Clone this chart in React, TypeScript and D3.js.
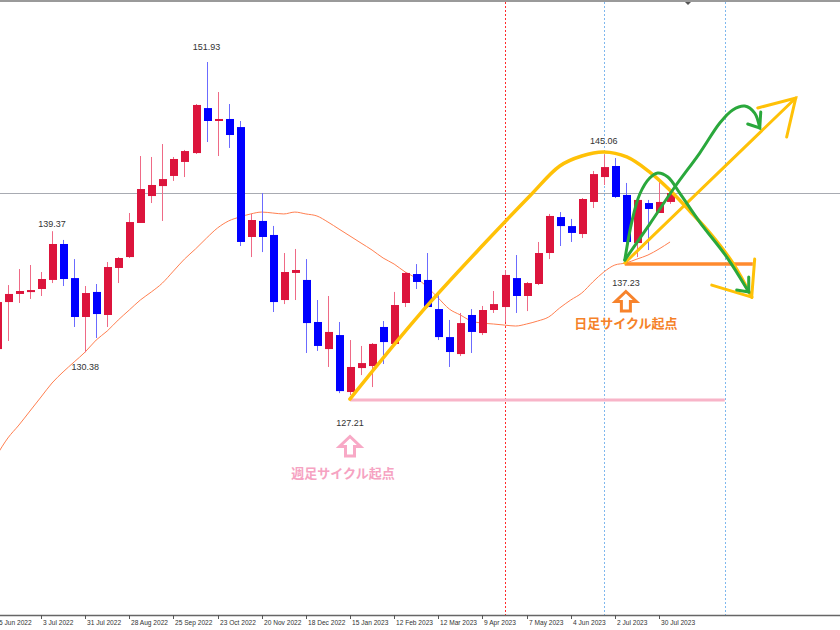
import React from 'react';
import * as d3 from 'd3';

// ---- Weekly USD/JPY candles (week start dates) ----
const weeks = [
  '2022-06-05','2022-06-12','2022-06-19','2022-06-26','2022-07-03','2022-07-10','2022-07-17','2022-07-24','2022-07-31',
  '2022-08-07','2022-08-14','2022-08-21','2022-08-28','2022-09-04','2022-09-11','2022-09-18','2022-09-25','2022-10-02',
  '2022-10-09','2022-10-16','2022-10-23','2022-10-30','2022-11-06','2022-11-13','2022-11-20','2022-11-27','2022-12-04',
  '2022-12-11','2022-12-18','2022-12-25','2023-01-01','2023-01-08','2023-01-15','2023-01-22','2023-01-29','2023-02-05',
  '2023-02-12','2023-02-19','2023-02-26','2023-03-05','2023-03-12','2023-03-19','2023-03-26','2023-04-02','2023-04-09',
  '2023-04-16','2023-04-23','2023-04-30','2023-05-07','2023-05-14','2023-05-21','2023-05-28','2023-06-04','2023-06-11',
  '2023-06-18','2023-06-25','2023-07-02','2023-07-09','2023-07-16','2023-07-23','2023-07-30','2023-08-06',
];
const open = [
  130.62,134.11,134.71,134.85,135.08,135.75,138.42,135.89,133.00,134.86,133.15,136.64,137.45,139.98,141.98,142.72,143.47,144.51,
  145.17,148.51,147.55,147.70,147.10,138.94,140.13,139.09,134.26,136.27,135.75,132.63,130.62,131.66,127.43,129.21,129.36,132.26,
  131.00,134.04,136.19,135.75,133.59,131.51,130.25,133.15,131.81,133.52,133.74,135.89,134.56,135.45,137.75,140.42,139.75,139.16,
  141.54,143.39,144.21,142.06,138.49,141.46,140.72,141.54,
];
const high = [
  134.50,135.37,136.56,136.86,136.34,139.37,138.72,137.30,135.30,135.45,137.08,137.45,140.72,144.95,144.88,145.84,144.88,145.40,
  148.81,151.93,149.70,148.81,147.55,140.65,142.20,139.76,137.75,138.05,137.30,134.26,134.56,132.63,131.29,130.85,131.07,132.70,
  134.86,136.34,136.93,137.75,134.63,132.78,133.30,133.59,133.82,134.93,136.49,137.60,135.60,138.57,140.65,140.79,140.28,141.83,
  143.84,145.06,144.80,142.95,141.76,141.69,143.02,142.30,
];
const low = [
  130.40,131.22,134.04,134.34,134.56,135.52,135.30,132.26,130.38,131.44,132.26,135.52,137.38,139.98,141.46,140.13,143.10,143.39,
  145.10,145.99,144.95,145.55,138.27,137.45,137.82,133.37,133.96,134.26,130.33,130.48,129.29,127.35,127.21,128.69,127.80,129.51,
  131.00,133.74,135.08,133.67,131.29,129.29,130.10,130.33,131.66,133.30,132.63,133.30,133.44,135.37,137.30,138.27,138.57,138.86,
  141.09,142.80,141.83,137.23,137.45,137.97,140.72,141.40,
];
const close = [
  134.11,134.71,134.93,135.00,135.82,138.42,135.82,133.00,134.78,133.22,136.71,137.38,140.05,142.50,142.80,143.24,144.73,145.32,
  148.74,147.55,147.70,146.51,138.57,140.20,138.94,134.11,136.34,136.49,132.55,130.85,131.89,127.50,129.29,129.58,131.00,131.14,
  133.89,136.27,135.60,133.74,131.51,130.40,132.55,131.89,133.52,133.96,136.12,134.56,135.52,137.75,140.50,139.75,139.24,141.76,
  143.61,144.13,141.91,138.57,141.69,141.02,141.54,142.20,
];
const movingAverage = [
  122.75,124.02,124.98,126.02,127.06,128.10,128.92,129.66,130.40,131.29,131.96,132.78,133.52,134.26,134.86,135.52,136.41,137.30,
  138.05,138.86,139.61,140.13,140.42,140.65,140.79,140.72,140.65,140.79,140.65,140.50,140.05,139.53,139.01,138.49,137.97,137.38,
  136.93,136.34,135.89,135.23,134.41,133.59,133.15,132.70,132.55,132.48,132.40,132.33,132.48,132.70,133.00,133.67,134.26,134.78,
  135.60,136.34,136.86,137.01,137.30,137.60,138.05,138.57,
];

const currentPrice = 142.2;
const extremeWeeks = ['2022-07-10', '2022-07-31', '2022-10-16', '2023-01-15', '2023-06-25', '2023-07-09'];
const extremeValues = [139.37, 130.38, 151.93, 127.21, 145.06, 137.23];
const extremeDy = [-4, 18, -12.5, 31, -11, 26];
const redMarkerWeeks = ['2023-04-23'];
const blueMarkerWeeks = ['2023-06-25', '2023-09-10'];

// ---- hand-drawn annotations: [week index from first week, price] ----
const weeklyCycleLine: [number, number][] = [[31.99, 126.84], [65.96, 126.84]];
const dailyCycleLine: [number, number][] = [[56.9, 136.93], [68.5, 136.93]];
const yellowCycle: [number, number][] = [
  [31.99, 126.91], [38.33, 133.22], [44.22, 138.49], [48.29, 141.98], [51.01, 144.21], [53.0, 144.95],
  [55.0, 145.25], [57.08, 144.88], [59.16, 143.76], [60.97, 142.43], [62.79, 140.87], [64.6, 139.24],
  [66.68, 137.01], [68.4, 134.48],
];
const yellowCycleHead: [number, number][] = [[64.78, 135.37], [68.4, 134.48], [68.67, 137.3]];
const yellowUp: [number, number][] = [[56.9, 137.01], [72.39, 149.26]];
const yellowUpHead: [number, number][] = [[68.95, 148.52], [72.39, 149.26], [71.57, 146.36]];
const greenShort: [number, number][] = [
  [56.9, 137.23], [57.53, 140.05], [58.26, 142.13], [59.16, 143.32], [59.89, 143.69], [60.8, 143.39],
  [61.88, 142.2], [63.69, 140.05], [66.14, 137.45], [68.13, 134.86],
];
const greenShortHead: [number, number][] = [[68.13, 135.97], [68.13, 134.86], [67.04, 135.0]];
const greenLong: [number, number][] = [
  [56.9, 137.23], [59.16, 139.9], [61.43, 142.65], [63.69, 145.17], [65.51, 147.4], [66.68, 148.37],
  [67.77, 148.66], [68.67, 148.14], [69.13, 147.03],
];
const greenLongHead: [number, number][] = [[69.22, 148.22], [69.13, 147.03], [68.04, 147.33]];
const weeklyCycleText = '週足サイクル起点';
const dailyCycleText = '日足サイクル起点';

const W = 840;
const H = 630;
const WEEK_MS = 7 * 864e5;
const weekIndex = (d: string) => Math.round((Date.parse(d) - Date.parse(weeks[0])) / WEEK_MS);

export default function App() {
  const x = d3.scaleLinear().domain([4, 60]).range([41, 659]);
  const y = d3.scaleLinear().domain([127.21, 151.93]).range([395, 62]);
  const axisY = 615;
  const parse = d3.utcParse('%Y-%m-%d');
  const fmtUtc = d3.utcFormat('%-d %b %Y');

  const line = d3.line<[number, number]>().x((d) => x(d[0])).y((d) => y(d[1]));
  const curve = d3.line<[number, number]>().x((d) => x(d[0])).y((d) => y(d[1])).curve(d3.curveCatmullRom.alpha(0.5));
  const maLine = d3.line<number>().x((_, i) => x(i)).y((d) => y(d)).curve(d3.curveMonotoneX);

  const tickIdx = weeks.map((_, i) => i).filter((i) => i % 4 === 0);

  const arrowPath = 'M0,0 L10.5,10 L4.5,10 L4.5,19.5 L-4.5,19.5 L-4.5,10 L-10.5,10 Z';
  const pinkIdx = weekIndex('2023-01-15');
  const orangeIdx = weekIndex('2023-07-09');

  return (
    <svg width={W} height={H} style={{ position: 'absolute', left: 0, top: 0, background: '#fff' }}>
      {/* frame */}
      <line x1={0} x2={W} y1={1} y2={1} stroke="#9a9a9a" strokeWidth={2} />
      <path d={`M685,2 L691,2 L688,5 Z`} fill="#555" />
      {/* vertical markers */}
      {redMarkerWeeks.map((d) => (
        <line key={d} x1={Math.round(x(weekIndex(d))) + 0.5} x2={Math.round(x(weekIndex(d))) + 0.5} y1={2} y2={axisY}
          stroke="#ff2a2a" strokeWidth={1} strokeDasharray="2,2" />
      ))}
      {blueMarkerWeeks.map((d) => (
        <line key={d} x1={Math.round(x(weekIndex(d))) + 0.5} x2={Math.round(x(weekIndex(d))) + 0.5} y1={2} y2={axisY}
          stroke="#7fb8ee" strokeWidth={1} strokeDasharray="2,2" />
      ))}
      {/* current price line */}
      <line x1={0} x2={W} y1={Math.round(y(currentPrice)) + 0.5} y2={Math.round(y(currentPrice)) + 0.5} stroke="#a8abb2" strokeWidth={1} />
      {/* moving average */}
      <path d={maLine(movingAverage) || ''} fill="none" stroke="#ff7f50" strokeWidth={1} />
      {/* candles */}
      {weeks.map((d, i) => {
        const up = close[i] >= open[i];
        const cx = Math.round(x(i));
        const top = y(Math.max(open[i], close[i]));
        const bot = y(Math.min(open[i], close[i]));
        return (
          <g key={d}>
            <line x1={cx + 0.5} x2={cx + 0.5} y1={y(high[i])} y2={y(low[i])} stroke={up ? '#ef6a86' : '#6b6bff'} strokeWidth={1} />
            <rect x={cx - 3} y={top} width={8} height={Math.max(1.5, bot - top)} fill={up ? '#dc143c' : '#0000ff'} />
          </g>
        );
      })}
      {/* annotations */}
      <path d={line(weeklyCycleLine) || ''} stroke="#f8b4c8" strokeWidth={3} fill="none" />
      <path d={line(dailyCycleLine) || ''} stroke="#ff8a2e" strokeWidth={3.5} fill="none" />
      <path d={curve(yellowCycle) || ''} stroke="#ffc107" strokeWidth={3.5} fill="none" strokeLinecap="round" />
      <path d={line(yellowCycleHead) || ''} stroke="#ffc107" strokeWidth={3} fill="none" strokeLinecap="round" />
      <path d={line(yellowUp) || ''} stroke="#ffc107" strokeWidth={3} fill="none" strokeLinecap="round" />
      <path d={line(yellowUpHead) || ''} stroke="#ffc107" strokeWidth={3} fill="none" strokeLinecap="round" />
      <path d={curve(greenShort) || ''} stroke="#2aa83c" strokeWidth={3} fill="none" strokeLinecap="round" />
      <path d={line(greenShortHead) || ''} stroke="#2aa83c" strokeWidth={3} fill="none" strokeLinecap="round" />
      <path d={curve(greenLong) || ''} stroke="#2aa83c" strokeWidth={3} fill="none" strokeLinecap="round" />
      <path d={line(greenLongHead) || ''} stroke="#2aa83c" strokeWidth={3} fill="none" strokeLinecap="round" />
      {/* cycle start markers */}
      <path d={arrowPath} transform={`translate(${x(pinkIdx)},${y(127.21) + 41.5})`} fill="#fff" stroke="#f8a9c6" strokeWidth={3} />
      <text x={x(pinkIdx) - 7} y={y(127.21) + 83} textAnchor="middle" fill="#f6a3c2" fontSize={13} fontWeight="bold"
        fontFamily="'Noto Sans CJK JP', sans-serif">{weeklyCycleText}</text>
      <path d={arrowPath} transform={`translate(${x(orangeIdx)},${y(137.23) + 31.5})`} fill="#fff" stroke="#f7832c" strokeWidth={3} />
      <text x={x(orangeIdx)} y={y(137.23) + 68} textAnchor="middle" fill="#f5822a" fontSize={13} fontWeight="bold"
        fontFamily="'Noto Sans CJK JP', sans-serif">{dailyCycleText}</text>
      {/* extreme labels */}
      {extremeWeeks.map((d, k) => {
        const v = extremeValues[k];
        return (
          <text key={d} x={x(weekIndex(d))} y={y(v) + extremeDy[k]} textAnchor="middle" fontSize={9}
            fontFamily="'Liberation Sans', Arial, sans-serif" fill="#333">{v.toFixed(2)}</text>
        );
      })}
      {/* time axis */}
      <line x1={0} x2={W} y1={axisY + 0.5} y2={axisY + 0.5} stroke="#666" strokeWidth={1.3} />
      {tickIdx.map((i) => {
        const tx = Math.round(x(i)) + 0.5;
        return (
          <g key={i}>
            <line x1={tx} x2={tx} y1={axisY} y2={axisY + 4} stroke="#555" strokeWidth={1} />
            <text x={tx + 1.5} y={axisY + 10} fontSize={6.6} fill="#333" fontFamily="'Liberation Sans', Arial, sans-serif">
              {fmtUtc(parse(weeks[i]) as Date)}
            </text>
          </g>
        );
      })}
    </svg>
  );
}
